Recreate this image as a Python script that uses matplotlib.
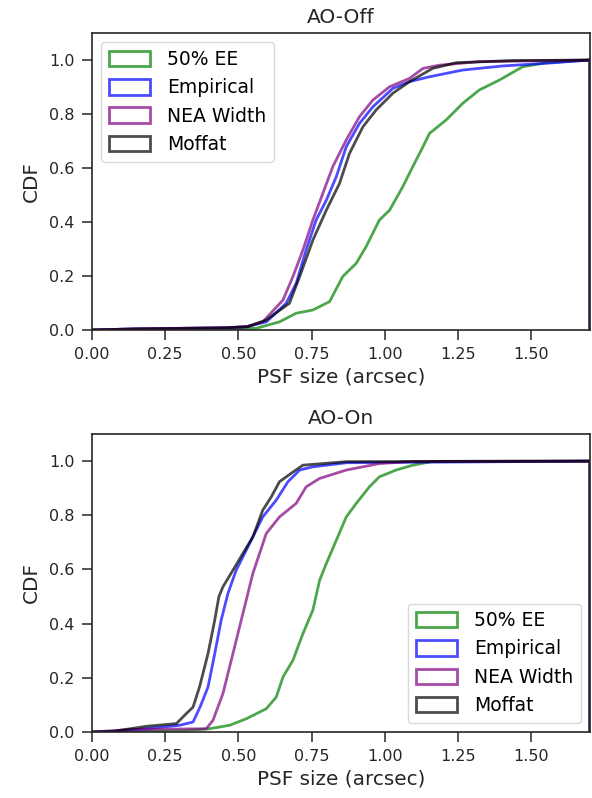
import matplotlib
matplotlib.use("Agg")
import matplotlib.pyplot as plt
from matplotlib.patches import Patch

# Cumulative distributions of PSF size (arcsec) for each estimator.
# Each series: PSF size knots and the CDF value reached there.
labels = ["50% EE", "Empirical", "NEA Width", "Moffat"]
colors = ["green", "blue", "purple", "black"]

# ---- AO-Off ----
off_ee_x = [0.0, 0.30, 0.56, 0.64, 0.697, 0.754, 0.811, 0.856, 0.902, 0.936, 0.981,
            1.016, 1.061, 1.095, 1.130, 1.152, 1.209, 1.266, 1.322, 1.391, 1.470,
            1.55, 1.70]
off_ee_y = [0.0, 0.002, 0.006, 0.03, 0.062, 0.074, 0.105, 0.198, 0.247, 0.309, 0.407,
            0.444, 0.531, 0.605, 0.679, 0.728, 0.778, 0.840, 0.889, 0.926, 0.975,
            0.99, 1.0]

off_emp_x = [0.0, 0.15, 0.45, 0.527, 0.595, 0.663, 0.697, 0.731, 0.765, 0.80, 0.834,
             0.868, 0.913, 0.959, 1.027, 1.084, 1.152, 1.266, 1.402, 1.55, 1.70]
off_emp_y = [0.0, 0.004, 0.008, 0.012, 0.03, 0.099, 0.173, 0.296, 0.407, 0.481, 0.568,
             0.679, 0.765, 0.827, 0.895, 0.92, 0.938, 0.963, 0.978, 0.988, 1.0]

off_nea_x = [0.0, 0.15, 0.45, 0.53, 0.583, 0.652, 0.686, 0.72, 0.754, 0.788, 0.822,
             0.868, 0.913, 0.959, 1.016, 1.084, 1.13, 1.186, 1.322, 1.70]
off_nea_y = [0.0, 0.004, 0.008, 0.012, 0.03, 0.111, 0.198, 0.296, 0.407, 0.506, 0.605,
             0.704, 0.790, 0.852, 0.901, 0.932, 0.969, 0.981, 0.994, 1.0]

off_mof_x = [0.0, 0.15, 0.45, 0.53, 0.595, 0.674, 0.709, 0.754, 0.80, 0.845, 0.879,
             0.925, 0.970, 1.027, 1.084, 1.163, 1.243, 1.436, 1.70]
off_mof_y = [0.0, 0.004, 0.008, 0.012, 0.037, 0.099, 0.198, 0.333, 0.444, 0.543, 0.654,
             0.753, 0.815, 0.877, 0.92, 0.969, 0.99, 0.998, 1.0]

# ---- AO-On ----
on_ee_x = [0.0, 0.30, 0.401, 0.47, 0.527, 0.595, 0.629, 0.652, 0.686, 0.72, 0.754,
           0.777, 0.80, 0.834, 0.868, 0.902, 0.947, 0.981, 1.038, 1.095, 1.163, 1.70]
on_ee_y = [0.0, 0.004, 0.012, 0.025, 0.049, 0.086, 0.129, 0.203, 0.265, 0.363, 0.45,
           0.56, 0.622, 0.708, 0.794, 0.844, 0.905, 0.942, 0.967, 0.985, 0.999, 1.0]

on_emp_x = [0.0, 0.07, 0.185, 0.30, 0.345, 0.370, 0.396, 0.419, 0.441, 0.464, 0.492,
            0.532, 0.583, 0.629, 0.669, 0.709, 0.754, 0.868, 1.70]
on_emp_y = [0.0, 0.002, 0.012, 0.025, 0.037, 0.095, 0.166, 0.289, 0.413, 0.511, 0.597,
            0.683, 0.794, 0.856, 0.924, 0.967, 0.979, 0.994, 1.0]

on_nea_x = [0.0, 0.129, 0.39, 0.413, 0.447, 0.481, 0.515, 0.549, 0.595, 0.64, 0.697,
            0.731, 0.777, 0.868, 0.981, 1.095, 1.70]
on_nea_y = [0.0, 0.009, 0.012, 0.043, 0.142, 0.289, 0.437, 0.585, 0.733, 0.794, 0.844,
            0.905, 0.936, 0.967, 0.991, 0.999, 1.0]

on_mof_x = [0.0, 0.07, 0.185, 0.288, 0.322, 0.345, 0.367, 0.396, 0.419, 0.433, 0.447,
            0.481, 0.515, 0.549, 0.583, 0.612, 0.64, 0.68, 0.72, 0.868, 1.70]
on_mof_y = [0.0, 0.002, 0.021, 0.031, 0.068, 0.092, 0.166, 0.289, 0.413, 0.499, 0.536,
            0.597, 0.659, 0.72, 0.819, 0.868, 0.924, 0.955, 0.985, 0.998, 1.0]

panels = [
    ("AO-Off", [(off_ee_x, off_ee_y), (off_emp_x, off_emp_y),
                (off_nea_x, off_nea_y), (off_mof_x, off_mof_y)], "upper left"),
    ("AO-On", [(on_ee_x, on_ee_y), (on_emp_x, on_emp_y),
               (on_nea_x, on_nea_y), (on_mof_x, on_mof_y)], "lower right"),
]

plt.rcParams["font.family"] = ["DejaVu Sans"]
edge = "#262626"

fig = plt.figure(figsize=(5.92, 7.98), dpi=100)
rects = [[0.1554, 0.5865, 0.8412, 0.3721], [0.1554, 0.0827, 0.8412, 0.3734]]

for rect, (title, series, loc) in zip(rects, panels):
    ax = fig.add_axes(rect)
    for (xs, ys), col in zip(series, colors):
        # close the cumulative step outline back down to zero at the last edge
        px = list(xs) + [xs[-1]]
        py = list(ys) + [0.0]
        ax.plot(px, py, color=col, alpha=0.7, lw=2.0, solid_joinstyle="miter")
    ax.set_xlim(0, 1.7)
    ax.set_ylim(0, 1.1)
    ax.set_xticks([0.0, 0.25, 0.5, 0.75, 1.0, 1.25, 1.5])
    ax.set_yticks([0.0, 0.2, 0.4, 0.6, 0.8, 1.0])
    ax.tick_params(labelsize=11.5, length=7.5, width=1.1, color=edge,
                   labelcolor=edge, pad=5)
    for s in ax.spines.values():
        s.set_color(edge)
        s.set_linewidth(1.2)
    ax.set_title(title, fontsize=14.5, color=edge, pad=7)
    ax.set_xlabel("PSF size (arcsec)", fontsize=14.4, color=edge, labelpad=4)
    ax.set_ylabel("CDF", fontsize=14.4, color=edge, labelpad=6)
    handles = [Patch(facecolor="none", edgecolor=c, lw=2.0, alpha=0.7) for c in colors]
    ax.legend(handles, labels, loc=loc, fontsize=13.5, handlelength=2.2,
              handleheight=0.9, labelspacing=0.5, borderpad=0.4, handletextpad=0.9,
              framealpha=0.8, edgecolor="#d0d0d0")

fig.savefig("out.png", dpi=100)
